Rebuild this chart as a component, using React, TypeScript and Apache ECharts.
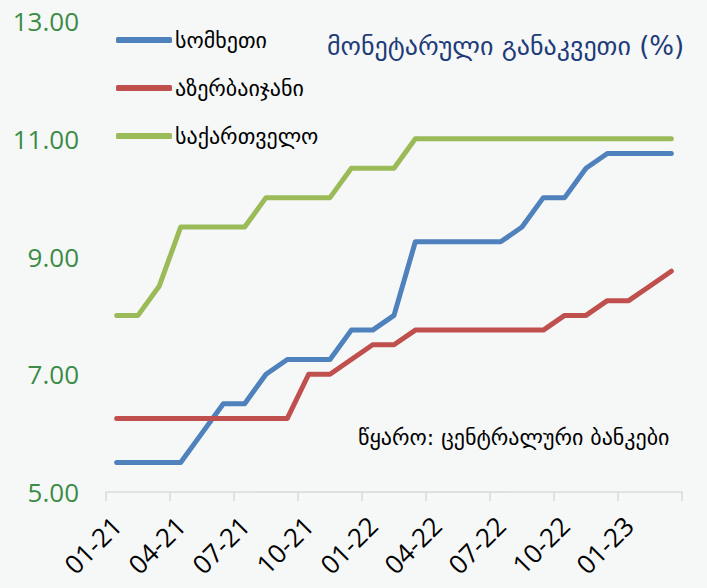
import React, { useEffect, useRef } from "react";
import * as echarts from "echarts";

const categories = [
  "01-21", "02-21", "03-21", "04-21", "05-21", "06-21", "07-21", "08-21", "09-21",
  "10-21", "11-21", "12-21", "01-22", "02-22", "03-22", "04-22", "05-22", "06-22",
  "07-22", "08-22", "09-22", "10-22", "11-22", "12-22", "01-23", "02-23", "03-23",
];

const armenia = [
  5.5, 5.5, 5.5, 5.5, 6.0, 6.5, 6.5, 7.0, 7.25, 7.25, 7.25, 7.75, 7.75, 8.0,
  9.25, 9.25, 9.25, 9.25, 9.25, 9.5, 10.0, 10.0, 10.5, 10.75, 10.75, 10.75, 10.75,
];

const azerbaijan = [
  6.25, 6.25, 6.25, 6.25, 6.25, 6.25, 6.25, 6.25, 6.25, 7.0, 7.0, 7.25, 7.5, 7.5,
  7.75, 7.75, 7.75, 7.75, 7.75, 7.75, 7.75, 8.0, 8.0, 8.25, 8.25, 8.5, 8.75,
];

const georgia = [
  8.0, 8.0, 8.5, 9.5, 9.5, 9.5, 9.5, 10.0, 10.0, 10.0, 10.0, 10.5, 10.5, 10.5,
  11.0, 11.0, 11.0, 11.0, 11.0, 11.0, 11.0, 11.0, 11.0, 11.0, 11.0, 11.0, 11.0,
];

const seriesNames = ["სომხეთი", "აზერბაიჯანი", "საქართველო"];
const seriesColors = ["#4f81bd", "#c0504d", "#9bbb59"];
const titleText = "მონეტარული განაკვეთი (%)";
const sourceText = "წყარო: ცენტრალური ბანკები";

const NUM_FONT = "'Open Sans', 'Noto Sans', sans-serif";
const GEO_FONT = "'DejaVu Sans', 'Noto Sans', sans-serif";

export default function App() {
  const ref = useRef<HTMLDivElement>(null);

  useEffect(() => {
    document.body.style.margin = "0";
    const chart = echarts.init(ref.current!, null, { renderer: "svg" });
    const data = [armenia, azerbaijan, georgia];
    chart.setOption({
      animation: false,
      backgroundColor: "#f6f8f8",
      title: {
        text: titleText,
        left: 322,
        top: 28,
        textStyle: {
          fontFamily: GEO_FONT,
          fontSize: 26,
          fontWeight: "normal",
          color: "#1f3c7a",
        },
      },
      legend: {
        orient: "vertical",
        left: 111,
        top: 23,
        itemWidth: 56,
        itemHeight: 6,
        itemGap: 24,
        icon: "roundRect",
        data: seriesNames,
        textStyle: {
          fontFamily: GEO_FONT,
          fontSize: 22,
          lineHeight: 24,
          color: "#000",
          padding: [0, 0, 0, -2],
        },
      },
      grid: { left: 106, right: 25, top: 21, bottom: 96, containLabel: false },
      xAxis: {
        type: "category",
        data: categories,
        boundaryGap: true,
        axisLine: { show: true, lineStyle: { color: "#d9d9d9", width: 1.5 } },
        axisTick: { show: true, interval: 2, length: 9, lineStyle: { color: "#d9d9d9", width: 1.5 } },
        axisLabel: {
          interval: 2,
          rotate: 45,
          margin: 29,
          fontFamily: NUM_FONT,
          fontSize: 26,
          color: "#000",
        },
        splitLine: { show: false },
      },
      yAxis: {
        type: "value",
        min: 5,
        max: 13,
        interval: 2,
        axisLine: { show: false },
        axisTick: { show: false },
        splitLine: { show: false },
        axisLabel: {
          margin: 27,
          fontFamily: NUM_FONT,
          fontSize: 26,
          color: "#3b8c45",
          formatter: (v: number) => v.toFixed(2),
        },
      },
      graphic: [
        {
          type: "text",
          left: 358,
          top: 426,
          style: {
            text: sourceText,
            fontFamily: GEO_FONT,
            fontSize: 22,
            fill: "#000",
          },
        },
      ],
      series: data.map((d, i) => ({
        name: seriesNames[i],
        type: "line",
        data: d,
        symbol: "none",
        smooth: false,
        color: seriesColors[i],
        lineStyle: { width: 5, color: seriesColors[i], cap: "round", join: "round" },
      })),
    });
    return () => chart.dispose();
  }, []);

  return <div ref={ref} style={{ width: 707, height: 588, position: "absolute", left: 0, top: 0 }} />;
}
